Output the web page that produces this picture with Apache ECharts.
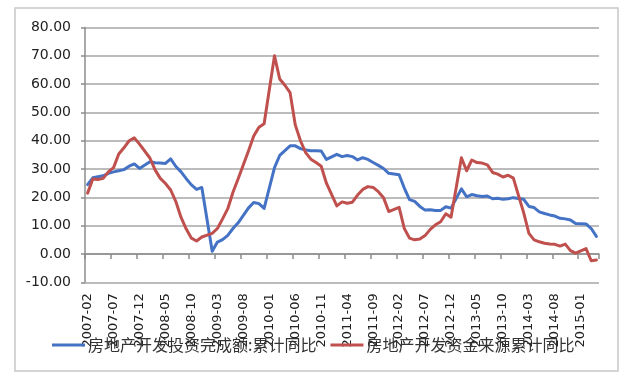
<!DOCTYPE html>
<html>
<head>
<meta charset="utf-8">
<script src="https://cdn.jsdelivr.net/npm/echarts@6/dist/echarts.min.js"></script>
<style>
  html, body { margin: 0; padding: 0; background: #ffffff; }
  #chart { width: 636px; height: 381px; }
</style>
</head>
<body>
<div id="chart"></div>
<script>
// Categories: monthly, 2007-02 .. 2015-04
const categories = [
  '2007-02','2007-03','2007-04','2007-05','2007-06','2007-07','2007-08','2007-09','2007-10','2007-11','2007-12',
  '2008-01','2008-02','2008-03','2008-04','2008-05','2008-06','2008-07','2008-08','2008-09','2008-10','2008-11','2008-12',
  '2009-01','2009-02','2009-03','2009-04','2009-05','2009-06','2009-07','2009-08','2009-09','2009-10','2009-11','2009-12',
  '2010-01','2010-02','2010-03','2010-04','2010-05','2010-06','2010-07','2010-08','2010-09','2010-10','2010-11','2010-12',
  '2011-01','2011-02','2011-03','2011-04','2011-05','2011-06','2011-07','2011-08','2011-09','2011-10','2011-11','2011-12',
  '2012-01','2012-02','2012-03','2012-04','2012-05','2012-06','2012-07','2012-08','2012-09','2012-10','2012-11','2012-12',
  '2013-01','2013-02','2013-03','2013-04','2013-05','2013-06','2013-07','2013-08','2013-09','2013-10','2013-11','2013-12',
  '2014-01','2014-02','2014-03','2014-04','2014-05','2014-06','2014-07','2014-08','2014-09','2014-10','2014-11','2014-12',
  '2015-01','2015-02','2015-03','2015-04'
];

// 房地产开发投资完成额:累计同比 (January has no data)
const investmentYoY = [
  24.5, 26.9, 27.3, 27.6, 28.5, 29.0, 29.4, 29.8, 31.0, 31.8, 30.2,
  null, 32.6, 32.2, 32.1, 32.0, 33.6, 30.9, 29.0, 26.6, 24.4, 22.8, 23.5,
  null, 1.0, 4.2, 5.1, 6.6, 9.0, 11.0, 13.6, 16.3, 18.2, 17.8, 16.1,
  null, 30.5, 34.8, 36.5, 38.2, 38.2, 37.2, 36.7, 36.5, 36.5, 36.4, 33.4,
  null, 35.2, 34.4, 34.8, 34.4, 33.2, 34.0, 33.4, 32.3, 31.3, 30.2, 28.5,
  null, 28.0, 23.3, 19.2, 18.6, 16.8, 15.5, 15.6, 15.4, 15.4, 16.7, 16.2,
  null, 23.0, 20.2, 21.0, 20.6, 20.3, 20.5, 19.5, 19.7, 19.3, 19.5, 19.9,
  null, 19.3, 16.8, 16.4, 14.9, 14.3, 13.8, 13.4, 12.6, 12.4, 12.0, 10.8,
  null, 10.6, 9.0, 6.2
];

// 房地产开发资金来源累计同比 (January has no data)
const fundingYoY = [
  21.5, 26.5, 26.3, 26.7, 29.0, 30.5, 35.3, 37.5, 40.0, 41.0, 38.8,
  null, 33.9, 29.7, 26.7, 24.9, 22.6, 18.5, 12.9, 8.8, 5.6, 4.6, 6.0,
  null, 7.3, 9.0, 12.4, 16.0, 21.8, 26.6, 31.5, 36.5, 41.7, 44.8, 46.0,
  null, 70.0, 61.8, 59.6, 57.0, 45.6, 40.0, 35.8, 33.5, 32.3, 31.0, 25.0,
  null, 17.0, 18.4, 17.9, 18.3, 20.8, 22.8, 23.8, 23.5, 22.0, 19.9, 15.0,
  null, 16.5, 9.0, 5.6, 5.0, 5.3, 6.5, 8.7, 10.3, 11.4, 14.2, 13.0,
  null, 34.0, 29.4, 33.2, 32.3, 32.1, 31.5, 28.8, 28.2, 27.2, 27.8, 26.8,
  null, 14.5, 7.3, 5.0, 4.3, 3.8, 3.5, 3.4, 2.8, 3.5, 1.2, 0.3,
  null, 1.9, -2.4, -2.1
];

const seriesNames = ['房地产开发投资完成额:累计同比', '房地产开发资金来源累计同比'];
const yMin = -10, yMax = 80, yStep = 10;

const chart = echarts.init(document.getElementById('chart'), null, { renderer: 'canvas' });
chart.setOption({
  animation: false,
  backgroundColor: '#ffffff',
  graphic: [{
    type: 'rect', silent: true, z: -10,
    shape: { x: 15, y: 8, width: 603, height: 363 },
    style: { fill: 'none', stroke: '#c8c8c8', lineWidth: 1.5 }
  }],
  grid: { left: 85, right: 37, top: 27.5, bottom: 98.7, containLabel: false },
  legend: {
    left: 52, top: 337, padding: 0, itemGap: 14,
    itemWidth: 33, itemHeight: 3, icon: 'rect',
    textStyle: { fontFamily: 'Noto Sans CJK SC', fontSize: 16, color: '#333333', padding: [0, 0, 0, -2] },
    data: seriesNames
  },
  xAxis: {
    type: 'category',
    data: categories,
    boundaryGap: true,
    axisLine: { onZero: true, lineStyle: { color: '#8c8c8c', width: 1.5 } },
    axisTick: { show: true, interval: 4, length: 5, lineStyle: { color: '#8c8c8c', width: 1.5 } },
    axisLabel: {
      interval: 4, rotate: 90, margin: 11,
      fontFamily: 'DejaVu Sans', fontSize: 13, color: '#222222'
    },
    splitLine: { show: false }
  },
  yAxis: {
    type: 'value',
    min: yMin, max: yMax, interval: yStep,
    axisLine: { show: true, lineStyle: { color: '#8c8c8c', width: 1.5 } },
    axisTick: { show: true, length: 4, lineStyle: { color: '#8c8c8c', width: 1.5 } },
    axisLabel: {
      margin: 14, fontFamily: 'DejaVu Sans', fontSize: 14, color: '#222222',
      formatter: v => v.toFixed(2)
    },
    splitLine: { show: true, lineStyle: { color: '#a6a6a6', width: 1.5 } }
  },
  series: [
    {
      name: seriesNames[0], type: 'line', data: investmentYoY,
      connectNulls: true, showSymbol: false, symbol: 'none', smooth: false,
      itemStyle: { color: '#4472C4' },
      lineStyle: { color: '#4472C4', width: 3, cap: 'round', join: 'round' }
    },
    {
      name: seriesNames[1], type: 'line', data: fundingYoY,
      connectNulls: true, showSymbol: false, symbol: 'none', smooth: false,
      itemStyle: { color: '#C0504D' },
      lineStyle: { color: '#C0504D', width: 3, cap: 'round', join: 'round' }
    }
  ]
});
</script>
</body>
</html>
